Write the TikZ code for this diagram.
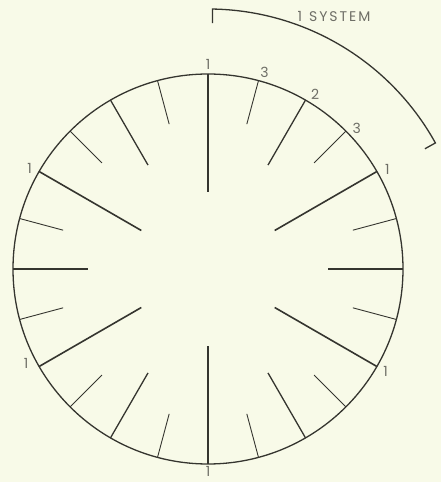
\documentclass[tikz,border=0pt]{standalone}
\usepackage{fontspec}
\setmainfont{Poppins}
\usetikzlibrary{calc}
\definecolor{paper}{HTML}{F8FAE8}
\definecolor{ink}{HTML}{35352F}
\definecolor{lbl}{HTML}{6E6E66}

\begin{document}
\begin{tikzpicture}[x=1pt, y=1pt,
    rim/.style={draw=ink, line width=1.3pt},
    tickA/.style={draw=ink, line width=1.6pt},
    tickB/.style={draw=ink, line width=1.3pt},
    tickC/.style={draw=ink, line width=0.9pt},
    num/.style={text=lbl, font=\fontsize{14}{16}\selectfont, inner sep=0pt}
]
\fill[paper] (0,0) rectangle (441,482);
\useasboundingbox (0,0) rectangle (441,482);
\coordinate (c) at (208,213);

% dial
\draw[rim] (c) circle (195);
\foreach \a in {30,90,...,330} \draw[tickA] ($(c)+(\a:195)$) -- ($(c)+(\a:77)$);
\foreach \a in {0,60,...,300} \draw[tickB] ($(c)+(\a:195)$) -- ($(c)+(\a:120)$);
\foreach \a in {15,45,...,345} \draw[tickC] ($(c)+(\a:195)$) -- ($(c)+(\a:150)$);

% numbers
\foreach \a/\r/\t [count=\i] in {90/205/1, 74/205/3, 58.5/205/2, 43.5/205/3, 29/205/1,
    150.5/205/1, 207.5/205/1, 270/202.5/1, 330/205/1}
  \node[num] (n\i) at ($(c)+(\a:\r)$) {\t};

% one system bracket
\draw[ink, line width=1.3pt] ($(c)+(89:260)$) ++(0,-14) -- ++(0,14)
  arc[start angle=89, end angle=29, radius=260] -- ($(c)+(29:248)$);
\node[num, font=\fontsize{14}{16}\selectfont\addfontfeature{LetterSpace=14}] (sys) at (334,465.5) {1\hspace{7pt}SYSTEM};
\end{tikzpicture}
\end{document}
